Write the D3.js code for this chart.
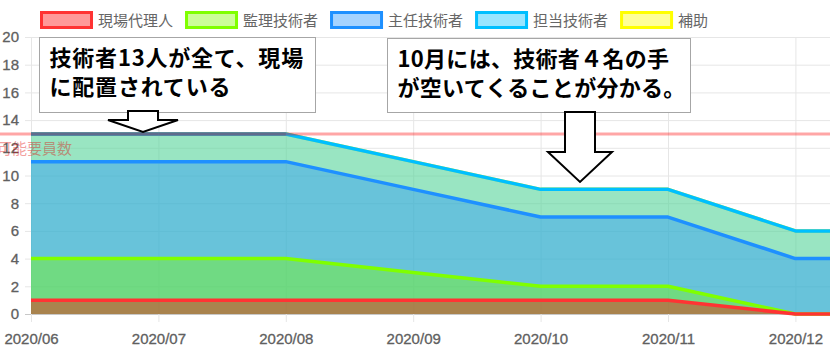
<!DOCTYPE html>
<html>
<head>
<meta charset="utf-8">
<script src="https://cdn.jsdelivr.net/npm/d3@7.9.0/dist/d3.min.js"></script>
<style>
  html, body { margin: 0; padding: 0; background: #fff; overflow: hidden; }
  svg { display: block; }
  .tick text { font-family: "Liberation Sans", Arial, sans-serif; font-size: 15px; fill: #606060; stroke: #606060; stroke-width: 0.3px; }
</style>
</head>
<body>
<div id="chart"></div>
<script>
// data
const months = ['2020/06', '2020/07', '2020/08', '2020/09', '2020/10', '2020/11', '2020/12', '2021/01'];
const seriesNames = ['現場代理人', '監理技術者', '主任技術者', '担当技術者', '補助'];
const agent = [1, 1, 1, 1, 1, 1, 0, 0];
const supervising = [3, 3, 3, 2, 1, 1, 0, 0];
const chief = [7, 7, 7, 6, 5, 5, 4, 4];
const inCharge = [2, 2, 2, 2, 2, 2, 2, 2];
const assistant = [0, 0, 0, 0, 0, 0, 0, 0];
const capacity = 13;
const capacityLabel = '配置可能要員数';
const yTicks = [0, 2, 4, 6, 8, 10, 12, 14, 16, 18, 20];
const note1 = ['技術者13人が全て、現場', 'に配置されている'];
const note2 = ['10月には、技術者４名の手', 'が空いてくることが分かる。'];

const borderColors = ['#ff3333', '#7fff00', '#1e90ff', '#00bfff', '#ffff00'];
const fillColors = ['rgba(255,0,0,0.4)', 'rgba(124,252,0,0.4)', 'rgba(30,144,255,0.4)', 'rgba(0,191,255,0.4)', 'rgba(255,255,0,0.4)'];

const width = 830;
const height = 351;
const margin = { top: 37, left: 31, bottom: 314 };
const step = 127.4;

const table = months.map((m, i) => ({
    month: m,
    s0: agent[i], s1: supervising[i], s2: chief[i], s3: inCharge[i], s4: assistant[i]
}));
const keys = ['s0', 's1', 's2', 's3', 's4'];
const stacked = d3.stack().keys(keys)(table);

const svg = d3.select('#chart')
    .append('svg')
    .attr('width', width)
    .attr('height', height);

const xScale = d3.scalePoint()
    .domain(months)
    .range([margin.left, margin.left + step * (months.length - 1)]);

const yScale = d3.scaleLinear()
    .domain([0, 20])
    .range([margin.bottom, margin.top]);

// y grid + labels
const yAxis = svg.append('g')
    .attr('class', 'y-axis')
    .attr('transform', `translate(${margin.left}, 0)`)
    .call(d3.axisLeft(yScale).tickValues(yTicks).tickSize(-(width - margin.left)).tickPadding(12));
yAxis.select('.domain').remove();
yAxis.selectAll('.tick line')
    .attr('x1', -6)
    .attr('stroke', (d) => d === 0 ? '#c8c8c8' : '#e6e6e6');

// x grid + labels
const xAxis = svg.append('g')
    .attr('class', 'x-axis')
    .attr('transform', `translate(0, ${margin.bottom + 8})`)
    .call(d3.axisBottom(xScale).tickSize(-(margin.bottom + 8 - margin.top)).tickPadding(8));
xAxis.select('.domain').remove();
xAxis.selectAll('.tick line').attr('stroke', '#e6e6e6');
xAxis.selectAll('.tick text').attr('dy', '0.95em');
// the month past the right edge keeps its grid line only
xAxis.selectAll('.tick')
    .filter((d) => xScale(d) > width)
    .select('text')
    .remove();

// areas, each filled down to zero, last series drawn first
const area = d3.area()
    .x((d) => xScale(d.data.month))
    .y0(yScale(0))
    .y1((d) => yScale(d[1]));

const line = d3.line()
    .x((d) => xScale(d.data.month))
    .y((d) => yScale(d[1]));

const layers = svg.append('g').attr('class', 'layers');
for (let i = stacked.length - 1; i >= 0; i--) {
    layers.append('path')
        .datum(stacked[i])
        .attr('d', area)
        .attr('fill', fillColors[i]);
    layers.append('path')
        .datum(stacked[i])
        .attr('d', line)
        .attr('fill', 'none')
        .attr('stroke', borderColors[i])
        .attr('stroke-width', 3.5)
        .attr('stroke-linejoin', 'round');
}

// capacity line
svg.append('line')
    .attr('x1', 0)
    .attr('x2', width)
    .attr('y1', yScale(capacity))
    .attr('y2', yScale(capacity))
    .attr('stroke', 'rgba(255,0,0,0.35)')
    .attr('stroke-width', 3);

// where the stack top meets the capacity line it shows dark
const stackTop = stacked[stacked.length - 1];
for (let i = 0; i < stackTop.length - 1; i++) {
    if (stackTop[i][1] === capacity && stackTop[i + 1][1] === capacity) {
        svg.append('line')
            .attr('x1', xScale(stackTop[i].data.month))
            .attr('x2', xScale(stackTop[i + 1].data.month))
            .attr('y1', yScale(capacity))
            .attr('y2', yScale(capacity))
            .attr('stroke', '#5f6b8c')
            .attr('stroke-width', 3);
    }
}

svg.append('text')
    .attr('x', 72)
    .attr('y', yScale(capacity) + 20)
    .attr('text-anchor', 'end')
    .attr('font-family', '"Noto Sans CJK JP", sans-serif')
    .attr('font-size', 15)
    .attr('fill', 'rgba(225,0,0,0.4)')
    .text(capacityLabel);

// legend
const legend = svg.append('g').attr('class', 'legend');
let lx = 41.5;
seriesNames.forEach((name, i) => {
    legend.append('rect')
        .attr('x', lx)
        .attr('y', 12.5)
        .attr('width', 50)
        .attr('height', 15)
        .attr('fill', fillColors[i])
        .attr('stroke', borderColors[i])
        .attr('stroke-width', 3);
    const t = legend.append('text')
        .attr('x', lx + 56.5)
        .attr('y', 25.5)
        .attr('font-family', '"Noto Sans CJK JP", sans-serif')
        .attr('font-size', 15)
        .attr('fill', '#666')
        .text(name);
    lx = lx + 56.5 + t.node().getComputedTextLength() + 13.5;
});

// callouts
function callout(x, y, w, h, lines, spacing, ax, ay, shaftW, shaftH, headW, headH) {
    const g = svg.append('g');
    g.append('rect')
        .attr('x', x).attr('y', y).attr('width', w).attr('height', h)
        .attr('fill', '#fff')
        .attr('stroke', '#a6a6a6');
    lines.forEach((l, i) => {
        g.append('text')
            .attr('x', x + 10)
            .attr('y', y + 28 + i * 29)
            .attr('font-family', '"Noto Sans CJK JP", sans-serif')
            .attr('font-weight', 'bold')
            .attr('font-size', 22)
            .attr('letter-spacing', spacing)
            .attr('fill', '#000')
            .text(l);
    });
    const pts = [
        [ax - shaftW / 2, ay],
        [ax + shaftW / 2, ay],
        [ax + shaftW / 2, ay + shaftH],
        [ax + headW / 2, ay + shaftH],
        [ax, ay + shaftH + headH],
        [ax - headW / 2, ay + shaftH],
        [ax - shaftW / 2, ay + shaftH]
    ];
    g.append('polygon')
        .attr('points', pts.map((p) => p.join(',')).join(' '))
        .attr('fill', '#fff')
        .attr('stroke', '#000')
        .attr('stroke-width', 2);
}

callout(39.5, 37.5, 276, 75, note1, 0.8, 143, 111, 30, 9, 70, 12);
callout(387.5, 38.5, 303, 74, note2, 0.3, 580, 112, 30, 40, 64, 30);
</script>
</body>
</html>
